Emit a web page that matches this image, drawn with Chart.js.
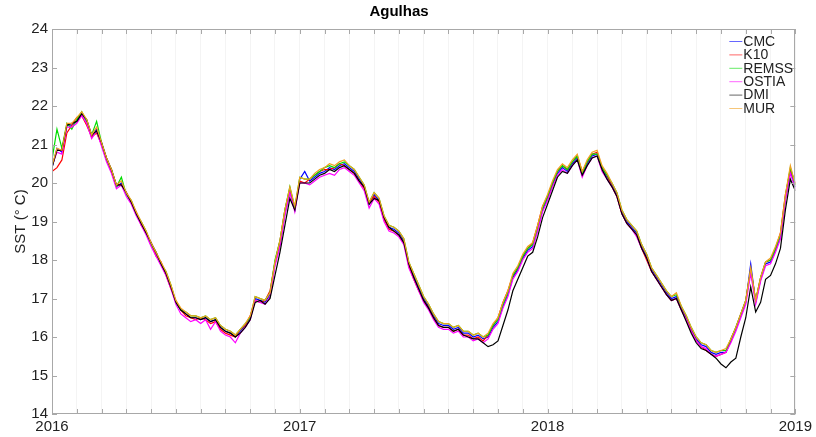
<!DOCTYPE html>
<html>
<head>
<meta charset="utf-8">
<script src="https://cdn.jsdelivr.net/npm/chart.js@4.4.0/dist/chart.umd.min.js"></script>
<style>
  body { margin: 0; background: #fff; }
</style>
</head>
<body>
<canvas id="myChart" width="816" height="437"></canvas>
<script>
let titulo = "Agulhas";
let tituloY = "SST (° C)";
let nombres = ["CMC", "K10", "REMSS", "OSTIA", "DMI", "MUR"];
let colores = ["#0000ff", "#ff0000", "#00dd00", "#ff00ff", "#000000", "#f0a020"];
let anioInicio = 2016;
let anioFin = 2019;
let paso = 0.02; // ~7 dias entre muestras
let ticksY = [14, 15, 16, 17, 18, 19, 20, 21, 22, 23, 24];
let ticksAnio = [2016, 2017, 2018, 2019];

let serieCMC = [
  20.4,20.9,20.8,21.5,21.5,21.6,21.8,21.6,21.2,21.4,
  21.0,20.6,20.3,19.9,20.0,19.7,19.5,19.2,18.95,18.7,
  18.4,18.15,17.9,17.65,17.3,16.9,16.7,16.6,16.5,16.5,
  16.45,16.5,16.4,16.45,16.25,16.15,16.1,16.0,16.15,16.3,
  16.5,17.0,16.95,16.9,17.1,17.9,18.4,19.2,19.8,19.3,
  20.1,20.3,20.05,20.15,20.25,20.3,20.4,20.35,20.45,20.5,
  20.4,20.3,20.1,19.9,19.45,19.7,19.55,19.1,18.85,18.8,
  18.7,18.5,17.9,17.6,17.3,17.0,16.8,16.55,16.35,16.3,
  16.3,16.2,16.25,16.1,16.1,16.0,16.05,15.95,16.0,16.25,
  16.4,16.8,17.1,17.55,17.75,18.05,18.25,18.35,18.8,19.3,
  19.6,19.95,20.25,20.4,20.3,20.5,20.65,20.2,20.5,20.7,
  20.75,20.35,20.15,19.95,19.7,19.25,19.0,18.85,18.7,18.35,
  18.1,17.75,17.55,17.35,17.15,17.0,17.05,16.75,16.5,16.2,
  15.95,15.8,15.75,15.6,15.55,15.6,15.6,15.9,16.2,16.55,
  16.9,17.9,16.9,17.5,17.9,17.95,18.25,18.6,19.6,20.3,
  19.9
];
let serieK10 = [
  20.3,20.4,20.6,21.3,21.5,21.7,21.75,21.5,21.2,21.3,
  21.0,20.65,20.3,19.95,19.95,19.75,19.5,19.25,18.9,18.7,
  18.45,18.1,17.95,17.6,17.25,16.95,16.7,16.55,16.5,16.45,
  16.5,16.45,16.35,16.4,16.2,16.1,16.05,16.0,16.2,16.3,
  16.55,16.95,16.9,16.95,17.2,17.95,18.5,19.3,19.85,19.35,
  20.05,20.0,20.1,20.2,20.3,20.35,20.35,20.4,20.5,20.45,
  20.35,20.25,20.05,19.85,19.5,19.65,19.5,19.05,18.8,18.75,
  18.65,18.45,17.85,17.5,17.2,16.95,16.75,16.5,16.3,16.25,
  16.25,16.15,16.2,16.05,16.05,15.95,16.0,15.9,16.05,16.3,
  16.5,16.9,17.2,17.6,17.8,18.1,18.3,18.45,18.9,19.4,
  19.65,20.0,20.3,20.45,20.35,20.55,20.7,20.3,20.55,20.75,
  20.8,20.4,20.2,19.9,19.65,19.2,18.95,18.8,18.65,18.3,
  18.0,17.7,17.5,17.3,17.1,16.95,17.0,16.7,16.45,16.15,
  15.9,15.75,15.65,15.55,15.5,15.55,15.6,15.95,16.25,16.6,
  16.95,17.75,16.95,17.55,17.95,18.0,18.3,18.7,19.7,20.35,
  20.0
];
let serieREMSS = [
  20.6,21.4,20.9,21.55,21.4,21.65,21.85,21.6,21.25,21.6,
  21.05,20.6,20.35,19.9,20.15,19.7,19.55,19.2,19.0,18.75,
  18.4,18.2,17.9,17.7,17.35,16.9,16.7,16.65,16.55,16.55,
  16.5,16.55,16.45,16.5,16.3,16.2,16.15,16.05,16.2,16.35,
  16.5,17.05,17.0,16.95,17.15,18.0,18.5,19.3,19.9,19.35,
  20.15,20.1,20.1,20.2,20.3,20.4,20.45,20.4,20.5,20.55,
  20.45,20.35,20.15,19.95,19.5,19.75,19.6,19.15,18.9,18.85,
  18.75,18.55,17.95,17.65,17.35,17.05,16.85,16.6,16.4,16.35,
  16.35,16.25,16.3,16.15,16.15,16.05,16.1,16.0,16.05,16.3,
  16.45,16.85,17.15,17.6,17.8,18.1,18.3,18.4,18.85,19.35,
  19.65,20.0,20.3,20.45,20.35,20.55,20.7,20.25,20.55,20.75,
  20.75,20.4,20.2,20.0,19.75,19.3,19.05,18.9,18.75,18.4,
  18.15,17.8,17.6,17.4,17.2,17.05,17.1,16.8,16.55,16.25,
  16.0,15.85,15.8,15.65,15.6,15.65,15.65,15.95,16.25,16.6,
  16.95,17.75,16.95,17.55,17.95,18.0,18.3,18.65,19.65,20.4,
  19.95
];
let serieOSTIA = [
  20.45,20.8,20.75,21.45,21.45,21.55,21.75,21.55,21.15,21.35,
  20.95,20.55,20.25,19.85,19.95,19.65,19.45,19.15,18.9,18.65,
  18.35,18.1,17.85,17.6,17.25,16.85,16.6,16.5,16.4,16.45,
  16.35,16.45,16.2,16.4,16.15,16.05,16.0,15.85,16.1,16.25,
  16.45,16.95,16.9,16.85,17.05,17.85,18.35,19.15,19.75,19.25,
  20.0,20.0,19.95,20.05,20.15,20.2,20.25,20.2,20.35,20.4,
  20.3,20.2,20.0,19.8,19.35,19.6,19.45,19.0,18.75,18.7,
  18.6,18.4,17.8,17.5,17.2,16.9,16.7,16.45,16.25,16.2,
  16.2,16.1,16.15,16.0,16.0,15.9,15.95,15.85,15.95,16.2,
  16.35,16.75,17.05,17.5,17.7,18.0,18.2,18.3,18.75,19.25,
  19.55,19.9,20.2,20.35,20.25,20.45,20.6,20.15,20.45,20.65,
  20.7,20.3,20.1,19.9,19.65,19.2,18.95,18.8,18.6,18.3,
  18.05,17.7,17.5,17.3,17.1,16.95,17.0,16.7,16.45,16.15,
  15.9,15.75,15.7,15.55,15.5,15.55,15.6,15.85,16.15,16.5,
  16.85,17.65,16.85,17.45,17.85,17.9,18.2,18.55,19.55,20.25,
  19.85
];
let serieDMI = [
  20.4,20.85,20.85,21.5,21.55,21.6,21.8,21.65,21.25,21.35,
  21.05,20.65,20.35,19.95,19.95,19.75,19.5,19.2,18.95,18.7,
  18.45,18.2,17.9,17.65,17.3,16.9,16.7,16.6,16.5,16.5,
  16.45,16.5,16.4,16.45,16.25,16.15,16.1,16.0,16.1,16.25,
  16.45,16.9,16.95,16.85,17.0,17.6,18.2,18.9,19.6,19.3,
  20.0,20.0,20.0,20.1,20.2,20.25,20.35,20.3,20.4,20.45,
  20.35,20.25,20.05,19.9,19.45,19.6,19.55,19.1,18.85,18.75,
  18.65,18.45,17.9,17.55,17.25,16.95,16.75,16.5,16.3,16.25,
  16.25,16.15,16.2,16.05,16.0,15.95,15.95,15.85,15.75,15.8,
  15.9,16.3,16.7,17.2,17.5,17.8,18.1,18.2,18.6,19.1,
  19.45,19.8,20.15,20.3,20.25,20.45,20.6,20.2,20.45,20.65,
  20.7,20.35,20.1,19.9,19.65,19.2,18.95,18.8,18.65,18.3,
  18.05,17.7,17.5,17.3,17.1,16.95,17.0,16.7,16.4,16.1,
  15.85,15.7,15.65,15.55,15.45,15.3,15.2,15.35,15.45,16.0,
  16.5,17.3,16.65,16.9,17.5,17.6,17.9,18.3,19.3,20.1,
  19.8
];
let serieMUR = [
  20.45,20.9,20.85,21.55,21.55,21.7,21.85,21.65,21.25,21.45,
  21.05,20.65,20.35,19.95,20.05,19.75,19.55,19.25,19.0,18.75,
  18.45,18.2,17.95,17.7,17.35,16.95,16.75,16.65,16.55,16.55,
  16.5,16.55,16.45,16.5,16.3,16.2,16.15,16.05,16.2,16.35,
  16.55,17.05,17.0,16.95,17.15,17.95,18.5,19.3,19.9,19.4,
  20.15,20.1,20.1,20.25,20.35,20.4,20.5,20.45,20.55,20.6,
  20.45,20.35,20.15,19.95,19.5,19.75,19.6,19.15,18.9,18.85,
  18.75,18.55,17.95,17.65,17.35,17.05,16.85,16.6,16.4,16.35,
  16.35,16.25,16.3,16.15,16.15,16.05,16.1,16.0,16.1,16.35,
  16.5,16.9,17.2,17.65,17.85,18.15,18.35,18.45,18.9,19.4,
  19.7,20.05,20.35,20.5,20.4,20.6,20.75,20.3,20.6,20.8,
  20.85,20.45,20.25,20.0,19.75,19.3,19.05,18.9,18.75,18.4,
  18.15,17.8,17.6,17.4,17.2,17.05,17.15,16.8,16.55,16.25,
  16.0,15.85,15.8,15.65,15.6,15.65,15.7,15.95,16.25,16.6,
  16.95,17.8,16.95,17.55,17.95,18.05,18.35,18.7,19.7,20.45,
  19.95
];

let series = [serieCMC, serieK10, serieREMSS, serieOSTIA, serieDMI, serieMUR];
let fuente = "'Liberation Sans', Arial, Helvetica, sans-serif";

// eje x en anios decimales
let fechas = serieCMC.map((v, i) => anioInicio + i * paso);

// marco, marcas hacia adentro y leyenda dentro del grafico
let cajaPlugin = {
  id: "caja",
  afterDraw(chart) {
    let ctx = chart.ctx;
    let a = chart.chartArea;
    let ejeX = chart.scales.x;
    let ejeY = chart.scales.y;
    ctx.save();
    ctx.strokeStyle = "#a8a8a8";
    ctx.lineWidth = 1;
    ctx.strokeRect(Math.round(a.left) + 0.5, Math.round(a.top) + 0.5,
      Math.round(a.width) - 1, Math.round(a.height) - 1);

    ctx.beginPath();
    for (const t of ejeX.ticks) {
      let px = Math.round(ejeX.getPixelForValue(t.value)) + 0.5;
      ctx.moveTo(px, a.bottom);
      ctx.lineTo(px, a.bottom - 5);
      ctx.moveTo(px, a.top);
      ctx.lineTo(px, a.top + 5);
    }
    for (const t of ejeY.ticks) {
      let py = Math.round(ejeY.getPixelForValue(t.value)) + 0.5;
      ctx.moveTo(a.left, py);
      ctx.lineTo(a.left + 5, py);
      ctx.moveTo(a.right, py);
      ctx.lineTo(a.right - 5, py);
    }
    ctx.stroke();

    // leyenda
    ctx.font = "14px " + fuente;
    ctx.textBaseline = "middle";
    ctx.textAlign = "left";
    nombres.forEach((nombre, k) => {
      let y = a.top + 12 + k * 13.4;
      ctx.strokeStyle = colores[k];
      ctx.globalAlpha = 0.6;
      ctx.beginPath();
      ctx.moveTo(a.right - 66, y + 0.5);
      ctx.lineTo(a.right - 53, y + 0.5);
      ctx.stroke();
      ctx.globalAlpha = 1;
      ctx.fillStyle = "#222";
      ctx.fillText(nombre, a.right - 52, y + 1);
    });
    ctx.restore();
  }
};

function renderGrafico() {
  // MUR queda arriba, CMC abajo, como en el original
  let datasets = nombres.map((nombre, k) => ({
    label: nombre,
    data: series[k].map((v, i) => ({ x: fechas[i], y: v })),
    borderColor: colores[k],
    borderWidth: 1.2,
    pointRadius: 0,
    tension: 0,
    order: nombres.length - k,
  }));

  let conf = {
    type: "line",
    data: { datasets },
    options: {
      responsive: false,
      animation: false,
      layout: { padding: { left: 0, right: 18, top: 0, bottom: 0 } },
      plugins: {
        legend: { display: false },
        tooltip: { enabled: false },
        title: {
          display: true,
          text: titulo,
          color: "#000",
          font: { family: fuente, size: 15, weight: "bold" },
          padding: { top: 3, bottom: 8 },
        },
      },
      scales: {
        x: {
          type: "linear",
          min: anioInicio,
          max: anioFin,
          afterFit: (eje) => { eje.height = 23; },
          ticks: {
            stepSize: 0.1,
            autoSkip: false,
            maxRotation: 0,
            padding: 4,
            color: "#222",
            font: { family: fuente, size: 15 },
            callback: (v) => {
              let anio = ticksAnio.find((a) => Math.abs(a - v) < 0.001);
              return anio ? String(anio) : "";
            },
          },
          grid: { color: "rgba(0,0,0,0.045)", drawTicks: false },
          border: { display: false },
        },
        y: {
          min: ticksY[0],
          max: ticksY[ticksY.length - 1],
          afterFit: (eje) => { eje.width = 52; },
          ticks: {
            stepSize: 1,
            padding: 4,
            color: "#222",
            font: { family: fuente, size: 15 },
          },
          grid: { display: false, drawTicks: false },
          border: { display: false },
          title: {
            display: true,
            text: tituloY,
            color: "#222",
            font: { family: fuente, size: 15 },
            padding: { top: 12, bottom: 0 },
          },
        },
      },
    },
    plugins: [cajaPlugin],
  };

  new Chart(document.querySelector("#myChart"), conf);
}

renderGrafico();
</script>
</body>
</html>
